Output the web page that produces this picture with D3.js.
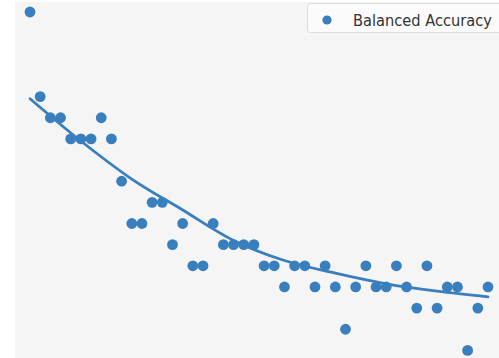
<!DOCTYPE html>
<html>
<head>
<meta charset="utf-8">
<script src="https://cdn.jsdelivr.net/npm/d3@7"></script>
<style>
  html, body { margin: 0; padding: 0; background: #ffffff; }
  svg { display: block; }
</style>
</head>
<body>
<svg id="chart" width="499" height="358"></svg>
<script>
// Balanced accuracy per step (index along x)
const steps = d3.range(46);
const accuracy = [
  0.80, 0.76, 0.75, 0.75, 0.74, 0.74, 0.74, 0.75, 0.74, 0.72,
  0.70, 0.70, 0.71, 0.71, 0.69, 0.70, 0.68, 0.68, 0.70, 0.69,
  0.69, 0.69, 0.69, 0.68, 0.68, 0.67, 0.68, 0.68, 0.67, 0.68,
  0.67, 0.65, 0.67, 0.68, 0.67, 0.67, 0.68, 0.67, 0.66, 0.68,
  0.66, 0.67, 0.67, 0.64, 0.66, 0.67
];

// Fitted trend of the accuracy
const trendSteps = [0, 5, 10, 15, 20, 25, 30, 35, 40, 45];
const trendValues = [0.759, 0.739, 0.721, 0.7064, 0.692, 0.6825, 0.6765, 0.6715, 0.668, 0.6653];

const legendLabel = "Balanced Accuracy";

const color = "#3a7fbd";
const svg = d3.select("#chart");
const W = 499, H = 358;

// Plot panel
svg.append("rect")
  .attr("x", 15).attr("y", 2)
  .attr("width", W - 15).attr("height", H - 2)
  .attr("fill", "#f5f5f5");

const x = d3.scaleLinear().domain([0, 45]).range([30, 488]);
const y = d3.scaleLinear().domain([0.64, 0.80]).range([350.4, 12]);

// Trend line
const line = d3.line()
  .x(d => x(d[0]))
  .y(d => y(d[1]))
  .curve(d3.curveMonotoneX);

svg.append("path")
  .datum(d3.zip(trendSteps, trendValues))
  .attr("d", line)
  .attr("fill", "none")
  .attr("stroke", color)
  .attr("stroke-width", 2.8)
  .attr("stroke-linecap", "round");

// Scatter points
svg.append("g")
  .selectAll("circle")
  .data(d3.zip(steps, accuracy))
  .join("circle")
  .attr("cx", d => x(d[0]))
  .attr("cy", d => y(d[1]))
  .attr("r", 5.4)
  .attr("fill", color);

// Legend
const legend = svg.append("g");
legend.append("rect")
  .attr("x", 307.5).attr("y", 3.5)
  .attr("width", 200).attr("height", 29)
  .attr("rx", 3)
  .attr("fill", "#fbfbfb")
  .attr("stroke", "#dcdcdc");
legend.append("circle")
  .attr("cx", 327).attr("cy", 20)
  .attr("r", 4.6)
  .attr("fill", color);
// Label drawn at 16px and narrowed to fit the box
const label = legend.append("text")
  .attr("font-family", "'DejaVu Sans', sans-serif")
  .attr("font-size", 16)
  .attr("fill", "#333333")
  .text(legendLabel);
const natural = label.node().getComputedTextLength();
label.attr("transform", `translate(353,26) scale(${139 / natural},1)`);
</script>
</body>
</html>
